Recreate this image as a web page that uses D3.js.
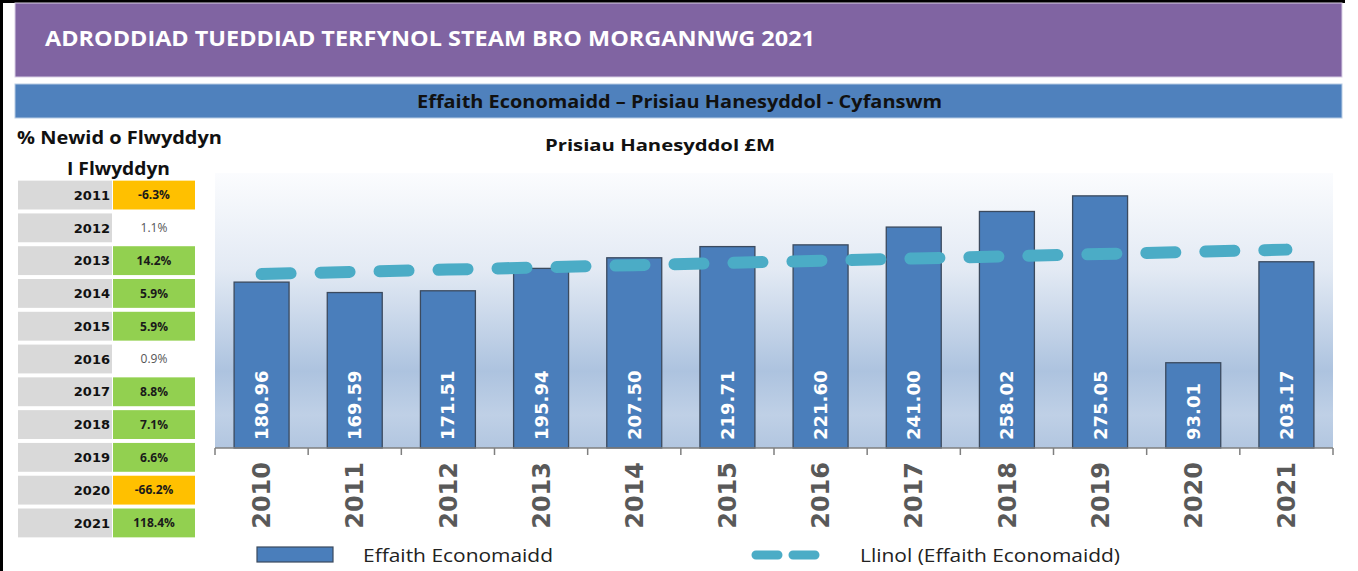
<!DOCTYPE html>
<html>
<head>
<meta charset="utf-8">
<script src="https://cdn.jsdelivr.net/npm/d3@7"></script>
<style>
  body { margin: 0; background: #fff; }
  svg { display: block; }
</style>
</head>
<body>
<svg width="1358" height="571"></svg>
<script>
// data
const years = ["2010","2011","2012","2013","2014","2015","2016","2017","2018","2019","2020","2021"];
const values = [180.96,169.59,171.51,195.94,207.50,219.71,221.60,241.00,258.02,275.05,93.01,203.17];

const changeYears = ["2011","2012","2013","2014","2015","2016","2017","2018","2019","2020","2021"];
const changePct = [-6.3,1.1,14.2,5.9,5.9,0.9,8.8,7.1,6.6,-66.2,118.4];

const svg = d3.select("svg"),
    width = +svg.attr("width"),
    height = +svg.attr("height");

const condensed = "'Liberation Sans Narrow','Open Sans',Arial,sans-serif";

// frame + banners
svg.append("rect").attr("x",0).attr("y",0).attr("width",1345).attr("height",3).attr("fill","#000");
svg.append("rect").attr("x",0).attr("y",0).attr("width",3).attr("height",height).attr("fill","#000");

svg.append("rect")
    .attr("x",15).attr("y",3).attr("width",1327).attr("height",74)
    .attr("fill","#8064a2").attr("stroke","#d9cfe6").attr("stroke-width",1);
svg.append("text")
    .attr("x",45).attr("y",46)
    .attr("font-family",condensed).attr("font-weight","bold").attr("font-size",21)
    .attr("fill","#fff")
    .attr("textLength",770).attr("lengthAdjust","spacingAndGlyphs")
    .text("ADRODDIAD TUEDDIAD TERFYNOL STEAM BRO MORGANNWG 2021");

svg.append("rect")
    .attr("x",15).attr("y",84).attr("width",1327).attr("height",34)
    .attr("fill","#4f81bd").attr("stroke","#b8cce4").attr("stroke-width",1);
svg.append("text")
    .attr("x",417).attr("y",108)
    .attr("font-family",condensed).attr("font-weight","bold").attr("font-size",18)
    .attr("fill","#111")
    .attr("textLength",525).attr("lengthAdjust","spacingAndGlyphs")
    .text("Effaith Economaidd \u2013 Prisiau Hanesyddol - Cyfanswm");

// left table
svg.append("text")
    .attr("x",17).attr("y",144)
    .attr("font-family","'Open Sans',sans-serif").attr("font-weight","bold").attr("font-size",17)
    .attr("fill","#111")
    .attr("textLength",205).attr("lengthAdjust","spacingAndGlyphs")
    .text("% Newid o Flwyddyn");
svg.append("text")
    .attr("x",67).attr("y",175)
    .attr("font-family","'Open Sans',sans-serif").attr("font-weight","bold").attr("font-size",17)
    .attr("fill","#111")
    .attr("textLength",103).attr("lengthAdjust","spacingAndGlyphs")
    .text("I Flwyddyn");

const rowY = d3.scaleBand().domain(changeYears).range([179, 539]).paddingInner(0.12).paddingOuter(0.05);

const rows = svg.append("g").selectAll("g")
    .data(changeYears.map((y,i) => ({year:y, pct:changePct[i]})))
    .join("g")
    .attr("transform", d => `translate(0,${rowY(d.year)})`);

rows.append("rect")
    .attr("x",18).attr("width",94).attr("height",rowY.bandwidth())
    .attr("fill","#d9d9d9");
rows.append("rect")
    .attr("x",113).attr("width",82).attr("height",rowY.bandwidth())
    .attr("fill", d => d.pct < 0 ? "#ffc000" : d.pct >= 5 ? "#92d050" : "#fff");
rows.append("text")
    .attr("x",110).attr("y",rowY.bandwidth()/2).attr("dy","0.36em")
    .attr("text-anchor","end")
    .attr("font-family","'DejaVu Sans',sans-serif").attr("font-weight","bold").attr("font-size",13)
    .attr("fill","#111")
    .text(d => d.year);
rows.append("text")
    .attr("x",154).attr("y",rowY.bandwidth()/2).attr("dy","0.36em")
    .attr("text-anchor","middle")
    .attr("font-family","'Open Sans',sans-serif")
    .attr("font-weight", d => (d.pct < 0 || d.pct >= 5) ? "bold" : "normal")
    .attr("font-size",12)
    .attr("fill", d => (d.pct < 0 || d.pct >= 5) ? "#1a1a1a" : "#555")
    .text(d => d.pct.toFixed(1) + "%");

// chart
const margin = {left:215, right:1333, top:173, bottom:448};

svg.append("text")
    .attr("x",660).attr("y",151)
    .attr("text-anchor","middle")
    .attr("font-family","'Open Sans',sans-serif").attr("font-weight","bold").attr("font-size",16)
    .attr("fill","#111")
    .attr("textLength",230).attr("lengthAdjust","spacingAndGlyphs")
    .text("Prisiau Hanesyddol \u00a3M");

const defs = svg.append("defs");
const grad = defs.append("linearGradient").attr("id","bg").attr("x1",0).attr("y1",0).attr("x2",0).attr("y2",1);
grad.append("stop").attr("offset","0%").attr("stop-color","#fbfcfe");
grad.append("stop").attr("offset","35%").attr("stop-color","#e3eaf4");
grad.append("stop").attr("offset","72%").attr("stop-color","#adc3df");
grad.append("stop").attr("offset","88%").attr("stop-color","#bfd0e6");
grad.append("stop").attr("offset","100%").attr("stop-color","#b2c6e0");

svg.append("rect")
    .attr("x",margin.left).attr("y",margin.top)
    .attr("width",margin.right-margin.left).attr("height",margin.bottom-margin.top)
    .attr("fill","url(#bg)");

const x = d3.scaleBand().domain(years).range([margin.left, margin.right]).paddingInner(0.41).paddingOuter(0.205);
const y = d3.scaleLinear().domain([0,300]).range([margin.bottom, margin.top]);

const data = years.map((yr,i) => ({year:yr, value:values[i]}));

svg.append("g").selectAll("rect")
    .data(data)
    .join("rect")
    .attr("x", d => x(d.year))
    .attr("y", d => y(d.value))
    .attr("width", x.bandwidth())
    .attr("height", d => y(0) - y(d.value))
    .attr("fill","#4a7ebb")
    .attr("stroke","#3b4a5e").attr("stroke-width",1.3);

svg.append("g").selectAll("text")
    .data(data)
    .join("text")
    .attr("transform", d => `translate(${x(d.year)+x.bandwidth()/2},${y(0)-8}) rotate(-90)`)
    .attr("dy","0.36em")
    .attr("font-family","'DejaVu Sans',sans-serif").attr("font-weight","bold").attr("font-size",18)
    .attr("fill","#fff")
    .text(d => d.value.toFixed(2));

// linear trend (least squares over the bar values)
const n = values.length;
const mx = d3.mean(d3.range(n)), my = d3.mean(values);
const slope = d3.sum(values, (v,i) => (i-mx)*(v-my)) / d3.sum(d3.range(n), i => (i-mx)*(i-mx));
const trend = years.map((yr,i) => ({year:yr, value: my + slope*(i-mx)}));

svg.append("path")
    .datum(trend)
    .attr("d", d3.line().x(d => x(d.year)+x.bandwidth()/2).y(d => y(d.value)))
    .attr("fill","none")
    .attr("stroke","#4bacc6").attr("stroke-width",12)
    .attr("stroke-linecap","round")
    .attr("stroke-dasharray","29,30");

// x axis
const xAxis = svg.append("g").attr("transform",`translate(0,${margin.bottom})`);
xAxis.append("line")
    .attr("x1",margin.left).attr("x2",margin.right)
    .attr("stroke","#7f7f7f").attr("stroke-width",1.5);
xAxis.selectAll(".tick")
    .data(d3.range(years.length+1))
    .join("line")
    .attr("x1", i => margin.left + i*x.step()).attr("x2", i => margin.left + i*x.step())
    .attr("y1",0).attr("y2",7)
    .attr("stroke","#7f7f7f").attr("stroke-width",1.5);
xAxis.selectAll("text")
    .data(years)
    .join("text")
    .attr("transform", d => `translate(${x(d)+x.bandwidth()/2},14) rotate(-90)`)
    .attr("text-anchor","end")
    .attr("dy","0.36em")
    .attr("font-family","'DejaVu Sans',sans-serif").attr("font-weight","bold").attr("font-size",24)
    .attr("fill","#595959")
    .text(d => d);

// legend
const legend = svg.append("g");
legend.append("rect")
    .attr("x",257).attr("y",547).attr("width",76).attr("height",15)
    .attr("fill","#4a7ebb").attr("stroke","#3b4a5e").attr("stroke-width",1.2);
legend.append("text")
    .attr("x",363).attr("y",562)
    .attr("font-family",condensed).attr("font-size",18).attr("fill","#222")
    .attr("textLength",190).attr("lengthAdjust","spacingAndGlyphs")
    .text("Effaith Economaidd");
legend.append("line")
    .attr("x1",756).attr("x2",818).attr("y1",555).attr("y2",555)
    .attr("stroke","#4bacc6").attr("stroke-width",9)
    .attr("stroke-linecap","round")
    .attr("stroke-dasharray","22,15");
legend.append("text")
    .attr("x",860).attr("y",562)
    .attr("font-family",condensed).attr("font-size",18).attr("fill","#222")
    .attr("textLength",260).attr("lengthAdjust","spacingAndGlyphs")
    .text("Llinol (Effaith Economaidd)");
</script>
</body>
</html>
